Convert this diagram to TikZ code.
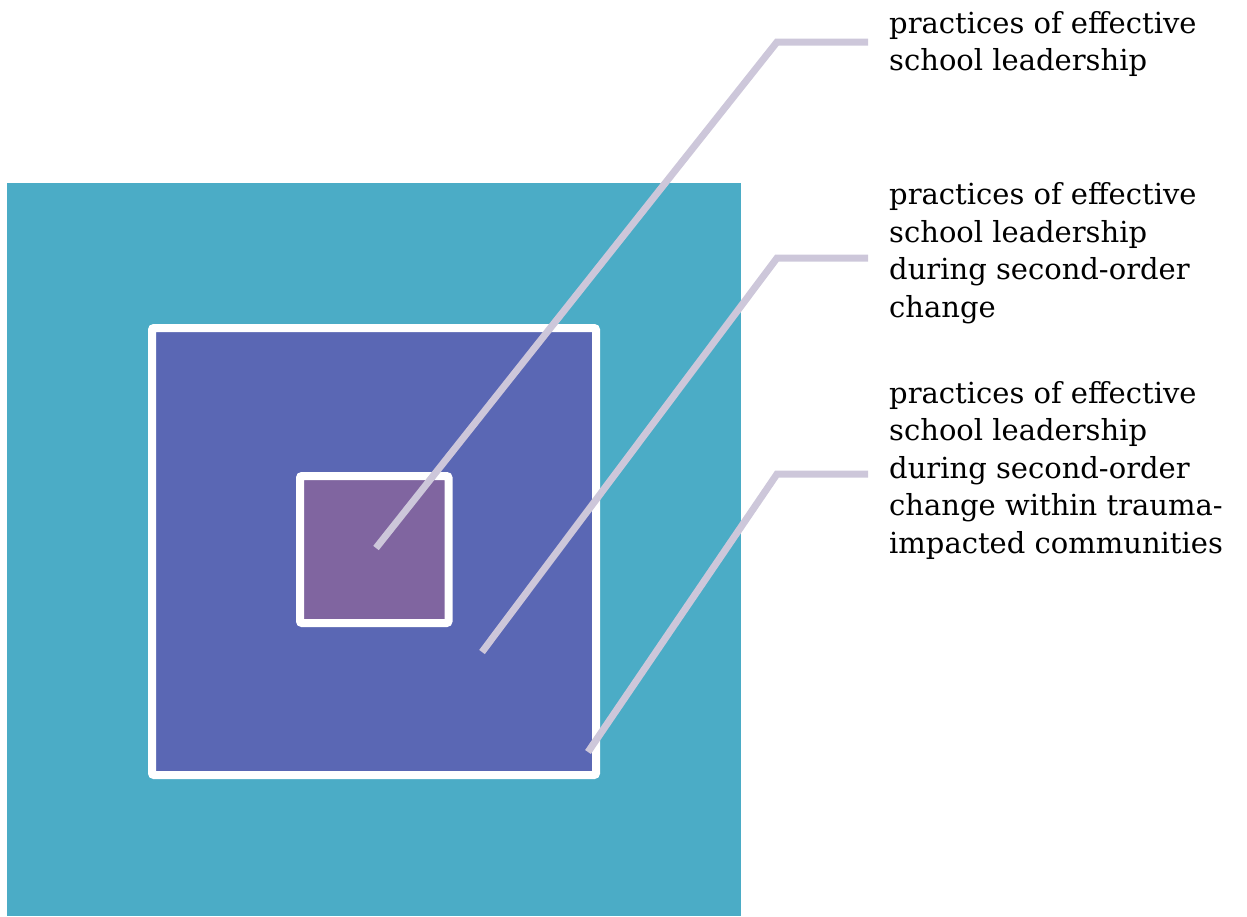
\documentclass[tikz,border=0pt]{standalone}
\usepackage{fontspec}
\setmainfont{DejaVu Serif}
\definecolor{outerteal}{RGB}{75,172,198}
\definecolor{midblue}{RGB}{90,103,180}
\definecolor{innerpurple}{RGB}{128,101,160}
\definecolor{leader}{RGB}{205,199,218}
\begin{document}
\begin{tikzpicture}[x=1pt,y=-1pt,
  framed/.style={draw=white,line width=8pt,rounded corners=2pt},
  leaderline/.style={draw=leader,line width=7pt,line join=miter},
  caption/.style={anchor=base west,inner sep=0pt,align=left,
    font=\fontsize{29}{37.5}\selectfont,text=black}]
\useasboundingbox (0,0) rectangle (1247,916);

% nested squares
\path[fill=outerteal] (7,183) rectangle (741,916);
\node[framed,fill=midblue,minimum width=444pt,minimum height=447pt,inner sep=0pt]
  (mid) at (374,551.5) {};
\node[framed,fill=innerpurple,minimum width=148.5pt,minimum height=147pt,inner sep=0pt]
  (inner) at (374.25,549.5) {};

% captions (anchored at the baseline of their last line)
\node[caption] (lblA) at (889,70.5) {practices of effective\\school leadership};
\node[caption] (lblB) at (889,317) {practices of effective\\school leadership\\during second-order\\change};
\node[caption] (lblC) at (889,553) {practices of effective\\school leadership\\during second-order\\change within trauma-\\impacted communities};

% leader points
\coordinate (pA) at (376,548);
\coordinate (eA) at (777,42);
\coordinate (tA) at (868,42);
\coordinate (pB) at (482,652);
\coordinate (eB) at (777,258);
\coordinate (tB) at (868,258);
\coordinate (pC) at (588,752);
\coordinate (eC) at (777,474);
\coordinate (tC) at (868,474);

\draw[leaderline] (pA) -- (eA) -- (tA);
\draw[leaderline] (pB) -- (eB) -- (tB);
\draw[leaderline] (pC) -- (eC) -- (tC);
\end{tikzpicture}
\end{document}
